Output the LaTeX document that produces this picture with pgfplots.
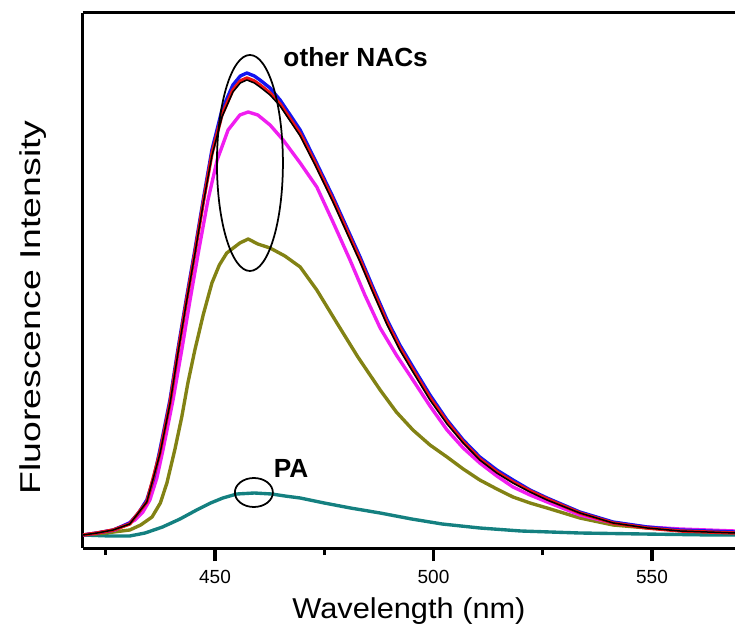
\documentclass[border=0pt]{standalone}
\usepackage{pgfplots}
\pgfplotsset{compat=1.18}
\usepackage{fontspec}
\setmainfont{Liberation Sans}
\newfontfamily\ylabfont[FakeStretch=1.3]{Liberation Sans}
\newfontfamily\xlabfont[FakeStretch=1.07]{Liberation Sans}
\definecolor{cblue}{RGB}{20,20,240}
\definecolor{cred}{RGB}{235,20,20}
\definecolor{cmag}{RGB}{240,30,240}
\definecolor{colive}{RGB}{130,130,20}
\definecolor{cteal}{RGB}{20,128,128}
\begin{document}
\begin{tikzpicture}
\useasboundingbox (-33.2pt,-34.8pt) rectangle (260.8pt,219.2pt);
\begin{axis}[
  at={(0,0)}, anchor=south west,
  scale only axis, width=260.8pt, height=214pt,
  xmin=419.8, xmax=569, ymin=0, ymax=535,
  axis x line*=bottom, axis y line*=left,
  axis line style={-, line width=1.2pt},
  xtick={450,500,550}, minor xtick={425,475,525},
  ytick=\empty,
  xmajorticks=true, xminorticks=true,
  tick align=outside,
  major tick length=5.2pt, minor tick length=2.8pt,
  every major tick/.append style={black, line width=1.3pt},
  every minor tick/.append style={black, line width=1.3pt},
  /pgf/number format/assume math mode=true,
  xticklabel style={font=\fontsize{7.6}{8}\selectfont},
  xlabel={\xlabfont\fontsize{11.5}{12}\selectfont Wavelength (nm)},
  xlabel style={at={(rel axis cs:0.5,0)}, anchor=base, yshift=-28pt},
  ylabel={\ylabfont\fontsize{11.5}{12}\selectfont Fluorescence Intensity},
  ylabel style={at={(rel axis cs:0,0.4495)}, anchor=center, yshift=20pt},
  clip=false,
  every axis plot/.append style={line width=1.35pt, line join=round},
]
\addplot[cteal] coordinates {
(419.8,13)(426,12)(430.5,12)(434,15)(438,21)(442,29)(445.8,38)(449,45)(451.8,50)(455,54)(459,55)(463,54)(466,52)(469.5,50)(475,45)(481,40)(487.8,35)(495,29)(502,24)(510.6,20)(520,17)(533.5,15)(548,14)(564,13)(569,13)};
\addplot[colive] coordinates {
(419.8,13)(425,15)(430.5,18)(433,23)(435.6,31)(437.5,45)(439,65)(440.8,98)(442.4,131)(443.8,165)(445.4,198)(447.3,233)(449.3,265)(451,283)(452.7,295)(455.7,305)(457.6,309)(459.8,304)(462.6,300)(466,292)(469.5,281)(473.3,258)(477.9,225)(482.7,191)(487.8,158)(491.5,136)(495.3,118)(499.2,103)(503.1,91)(506.8,79)(510.6,68)(514.5,59)(518.2,51)(522.1,45)(526,40)(533.5,30)(541.1,23)(548.9,20)(556.4,18)(569,16)};
\addplot[cmag] coordinates {
(419.8,13)(423,15)(427.1,18)(431.7,28)(433.5,36)(435.1,48)(436.7,70)(438.1,98)(440.4,148)(442.4,198)(444.3,248)(446.3,298)(448.4,348)(450.5,388)(453,418)(455.7,433)(457.6,436)(459.8,433)(462.6,423)(465.6,408)(469.5,385)(473.3,361)(477,326)(480.9,288)(484.3,253)(487.8,220)(491.5,193)(495.3,168)(499.2,142)(503.1,118)(506.8,100)(510.6,85)(514.5,72)(518.2,61)(522.1,53)(526,46)(533.5,33)(541.1,25)(548.9,21)(556.4,19)(569,17)};
\addplot[cblue] coordinates {
(419.8,13)(423,15)(426.7,18)(430.5,25)(432.5,35)(434.4,48)(436,70)(437.4,98)(439.7,148)(441.5,198)(443.4,248)(445.4,298)(447.3,348)(449.3,398)(451.6,438)(454.1,463)(455.8,472)(457.3,475)(459,472)(460.3,468)(462.6,460)(464.9,448)(467.2,433)(469.5,418)(472.9,388)(477,351)(480.2,320)(483.2,291)(486.2,260)(489.4,228)(492.3,203)(495.3,181)(499.2,153)(503.1,128)(506.8,108)(510.6,91)(514.5,78)(518.2,68)(522.1,58)(526,50)(533.5,36)(541.1,26)(548.9,21)(556.4,18)(569,16)};
\addplot[cred] coordinates {
(419.8,13)(423,15)(426.7,18)(430.5,24)(434.4,46)(437.4,95)(439.7,145)(441.5,195)(443.4,245)(445.4,295)(447.3,345)(449.3,394)(451.6,433)(454.1,458)(455.8,467)(457.3,470)(459,467)(460.3,463)(462.6,455)(464.9,444)(467.2,429)(469.5,414)(472.9,385)(477,348)(480.2,317)(483.2,288)(486.2,257)(489.4,225)(492.3,200)(495.3,178)(499.2,150)(503.1,126)(506.8,106)(510.6,89)(514.5,76)(518.2,66)(522.1,57)(526,49)(533.5,35)(541.1,25)(548.9,20)(556.4,17)(569,15)};
\addplot[black, line width=0.6pt] coordinates {
(419.8,13)(423,15)(426.7,18)(430.5,24)(434.4,46)(437.4,94)(439.7,144)(441.5,194)(443.4,244)(445.4,294)(447.3,344)(449.3,392)(451.6,431)(454.1,456)(455.8,465)(457.3,468)(459,465)(460.3,461)(462.6,453)(464.9,442)(467.2,427)(469.5,412)(472.9,383)(477,346)(480.2,315)(483.2,286)(486.2,255)(489.4,223)(492.3,198)(495.3,176)(499.2,148)(503.1,124)(506.8,105)(510.6,88)(514.5,75)(518.2,65)(522.1,56)(526,48)(533.5,35)(541.1,25)(548.9,20)(556.4,17)(569,15)};
\draw[line width=1.2pt] (rel axis cs:0,1) -- (rel axis cs:1,1);
\draw[black, line width=0.7pt] (axis cs:458,385) ellipse [x radius=7.55, y radius=108];
\draw[black, line width=0.7pt] (axis cs:458.9,55.5) ellipse [x radius=4.35, y radius=14.5];
\node[font=\bfseries\fontsize{10.5}{11}\selectfont, anchor=center, inner sep=0pt] at (axis cs:482.2,490.5) {other NACs};
\node[font=\bfseries\fontsize{10.5}{11}\selectfont, anchor=center, inner sep=0pt] at (axis cs:467.4,79.5) {PA};
\end{axis}
\end{tikzpicture}
\end{document}
